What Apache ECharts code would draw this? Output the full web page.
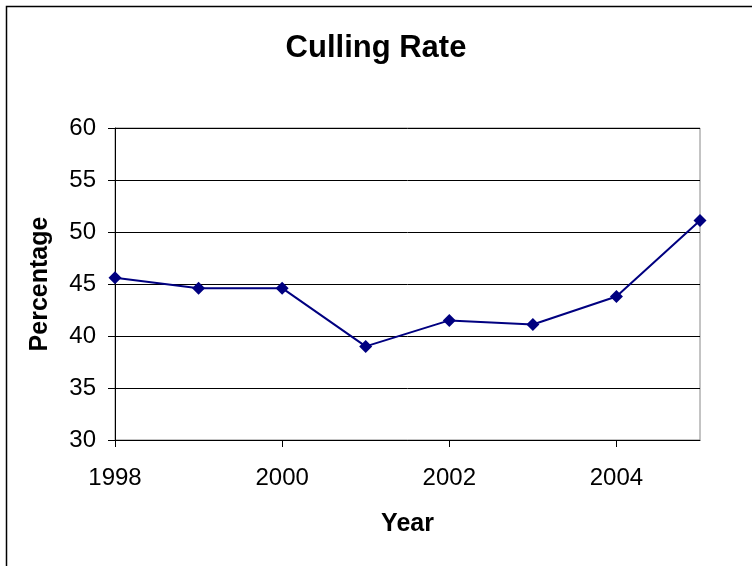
<!DOCTYPE html>
<html>
<head>
<meta charset="utf-8">
<script src="https://cdn.jsdelivr.net/npm/echarts@6/dist/echarts.min.js"></script>
<style>
  html, body { margin: 0; padding: 0; background: #fff; }
  #main { width: 752px; height: 566px; }
</style>
</head>
<body>
<div id="main"></div>
<script>
// data
var years = ['1998', '1999', '2000', '2001', '2002', '2003', '2004', '2005'];
var cullingRate = [45.6, 44.6, 44.6, 39.0, 41.5, 41.1, 43.8, 51.1];

var myChart = echarts.init(document.getElementById('main'));

var option = {
    backgroundColor: '#fff',
    textStyle: { fontFamily: 'Liberation Sans, Arial, sans-serif' },
    // 标题
    title: {
        text: 'Culling Rate',
        left: 'center',
        top: 28,
        textStyle: { fontSize: 31, fontWeight: 'bold', color: '#000' }
    },
    // outer frame (only top and left edges show)
    graphic: [{
        type: 'rect',
        shape: { x: 6.5, y: 6.5, width: 800, height: 600 },
        style: { fill: null, stroke: '#000', lineWidth: 1.5 },
        silent: true
    }],
    grid: {
        left: 115,
        right: 52,
        top: 128,
        bottom: 126,
        show: true,
        borderColor: '#888',
        borderWidth: 1
    },
    xAxis: {
        type: 'category',
        boundaryGap: false,
        data: years,
        name: 'Year',
        nameLocation: 'middle',
        nameGap: 72,
        nameTextStyle: { fontSize: 25, fontWeight: 'bold', color: '#000' },
        axisLine: { lineStyle: { color: '#000', width: 1 } },
        axisTick: { interval: 1, length: 7, lineStyle: { color: '#000' } },
        axisLabel: { interval: 1, fontSize: 24, color: '#000', margin: 26 },
        splitLine: { show: false }
    },
    yAxis: {
        type: 'value',
        min: 30,
        max: 60,
        interval: 5,
        name: 'Percentage',
        nameLocation: 'middle',
        nameGap: 62,
        nameTextStyle: { fontSize: 25, fontWeight: 'bold', color: '#000' },
        axisLine: { show: true, lineStyle: { color: '#000', width: 1 } },
        axisTick: { show: true, length: 7, lineStyle: { color: '#000' } },
        axisLabel: { fontSize: 24, color: '#000', margin: 19 },
        splitLine: { lineStyle: { color: '#000', width: 1 } }
    },
    series: [{
        name: 'Culling Rate',
        type: 'line',
        data: cullingRate,
        symbol: 'diamond',
        symbolSize: 13,
        color: '#000080',
        lineStyle: { color: '#000080', width: 2 },
        itemStyle: { color: '#000080' },
        animation: false
    }]
};

myChart.setOption(option);
</script>
</body>
</html>
